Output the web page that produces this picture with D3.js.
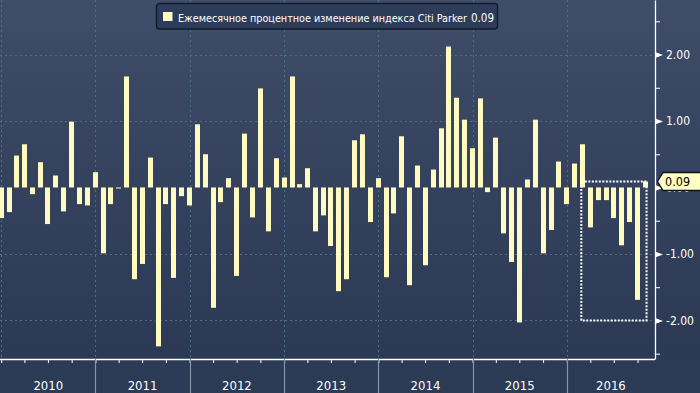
<!DOCTYPE html>
<html>
<head>
<meta charset="utf-8">
<script src="https://cdn.jsdelivr.net/npm/d3@7"></script>
<style>
  body { margin: 0; background: #2b3a55; }
  svg { display: block; font-family: "DejaVu Sans Condensed", "DejaVu Sans", sans-serif; }
</style>
</head>
<body>
<div id="chart"></div>
<script>
// Monthly change of the Citi Parker index, Dec 2009 .. Oct 2016
var startMonth = "2009-12";
var values = [
  -0.46,                                                                  // 2009-12
  -0.37, 0.48, 0.65, -0.10, 0.38, -0.55, 0.18, -0.36, 0.99, -0.25, -0.27, 0.23,   // 2010
  -0.99, -0.25, -0.01, 1.67, -1.38, -1.15, 0.45, -2.39, -0.25, -1.36, -0.13, -0.27, // 2011
  0.95, 0.50, -1.81, -0.22, 0.14, -1.33, 0.81, -0.45, 1.49, -0.66, 0.44, 0.15,      // 2012
  1.67, 0.05, 0.29, -0.66, -0.42, -0.88, -1.56, -1.38, 0.71, 0.80, -0.52, 0.14,     // 2013
  -1.35, -0.39, 0.77, -1.47, 0.33, -1.17, 0.27, 0.89, 2.12, 1.35, 1.02, 0.59,       // 2014
  1.34, -0.07, 0.75, -0.69, -1.12, -2.03, 0.12, 1.02, -0.99, -0.64, 0.39, -0.25,    // 2015
  0.36, 0.65, -0.60, -0.19, -0.19, -0.46, -0.87, -0.52, -1.69, 0.09                 // 2016
];
var yearLabels = ["2010", "2011", "2012", "2013", "2014", "2015", "2016"];
var yTicks = [-2, -1, 0, 1, 2];
var yMinorTicks = [-2.5, -1.5, -0.5, 0.5, 1.5, 2.5];
var seriesName = "Ежемесячное процентное изменение индекса Citi Parker";
var lastValue = 0.09;
// highlighted block: Feb 2016 .. Oct 2016, down to -2
var boxMonths = ["2016-02", "2016-10"];
var boxRange = [0.09, -2.0];

var svgWidth = 700;
var svgHeight = 393;
var plotRight = 655;
var plotBottom = 359;

var parseMonth = d3.timeParse("%Y-%m");
var first = parseMonth(startMonth);
var data = values.map(function(v, i) {
  // bars sit on the month end (= first day of next month)
  return { date: d3.timeMonth.offset(first, i + 1), value: v };
});

var svg = d3.select("#chart")
  .append("svg")
  .attr("width", svgWidth)
  .attr("height", svgHeight);

var defs = svg.append("defs");
var grad = defs.append("linearGradient")
  .attr("id", "bg")
  .attr("x1", 0).attr("y1", 0).attr("x2", 0).attr("y2", 1);
grad.append("stop").attr("offset", "0%").attr("stop-color", "#3f4d69");
grad.append("stop").attr("offset", "45%").attr("stop-color", "#35435f");
grad.append("stop").attr("offset", "100%").attr("stop-color", "#2b3955");

defs.append("clipPath").attr("id", "plotClip")
  .append("rect").attr("x", 0).attr("y", 0).attr("width", plotRight).attr("height", plotBottom);

svg.append("rect")
  .attr("width", svgWidth).attr("height", svgHeight)
  .attr("fill", "#2b3a55");
svg.append("rect")
  .attr("width", svgWidth).attr("height", plotBottom)
  .attr("fill", "url(#bg)");

// scales
var x = d3.scaleTime()
  .domain([new Date(2010, 0, 1), new Date(2017, 0, 1)])
  .range([1.2, 1.2 + 7 * 94.3]);

var y = d3.scaleLinear()
  .domain([-2.58, 2.82])
  .range([plotBottom, 0]);

var plot = svg.append("g").attr("clip-path", "url(#plotClip)");

// grid
var years = d3.timeYear.range(new Date(2010, 0, 1), new Date(2017, 0, 1));
plot.selectAll(".vgrid")
  .data(years)
  .enter()
  .append("line")
  .attr("x1", d => Math.round(x(d)) + 0.5)
  .attr("x2", d => Math.round(x(d)) + 0.5)
  .attr("y1", 0)
  .attr("y2", plotBottom)
  .attr("stroke", "#4d6b8a")
  .attr("stroke-dasharray", "2,3");

plot.selectAll(".hgrid")
  .data(yTicks.filter(d => d !== 0))
  .enter()
  .append("line")
  .attr("x1", 0)
  .attr("x2", plotRight)
  .attr("y1", d => Math.round(y(d)) + 0.5)
  .attr("y2", d => Math.round(y(d)) + 0.5)
  .attr("stroke", "#4d6b8a")
  .attr("stroke-dasharray", "2,3");

// bars
var barW = 5;
plot.selectAll(".bar")
  .data(data)
  .enter()
  .append("rect")
  .attr("x", d => Math.round(x(d.date) - barW / 2))
  .attr("width", barW)
  .attr("y", d => Math.min(y(d.value), y(0)))
  .attr("height", d => Math.max(Math.abs(y(d.value) - y(0)), 1))
  .attr("fill", "#fffbc0");

// highlight box
var bx0 = x(d3.timeMonth.offset(parseMonth(boxMonths[0]), 1)) - 1;
var bx1 = x(d3.timeMonth.offset(parseMonth(boxMonths[1]), 1)) + 1;
svg.append("rect")
  .attr("x", bx0)
  .attr("y", y(boxRange[0]))
  .attr("width", bx1 - bx0)
  .attr("height", y(boxRange[1]) - y(boxRange[0]))
  .attr("fill", "none")
  .attr("stroke", "#ffffff")
  .attr("stroke-width", 2)
  .attr("stroke-dasharray", "2,1.5");

// right axis
var rightAxis = d3.axisRight(y)
  .tickValues(yTicks)
  .tickSize(0)
  .tickPadding(11)
  .tickFormat(d => d.toFixed(2));

var ra = svg.append("g")
  .attr("transform", `translate(${plotRight}, 0)`)
  .call(rightAxis);
ra.select(".domain").attr("stroke", "#ffffff").attr("stroke-width", 1.3);
ra.selectAll("text")
  .attr("fill", "#ffffff")
  .style("font-size", "12px")
  .style("font-family", "'DejaVu Sans Condensed', sans-serif");

ra.selectAll(".tick")
  .append("path")
  .attr("d", "M0,-3L8,0L0,3Z")
  .attr("fill", "#ffffff");

var minorAxis = d3.axisRight(y)
  .tickValues(yMinorTicks)
  .tickSize(5)
  .tickFormat("");
var ma = svg.append("g")
  .attr("transform", `translate(${plotRight}, 0)`)
  .call(minorAxis);
ma.select(".domain").remove();
ma.selectAll("line").attr("stroke", "#ffffff");

// last value tag (covers the 0.00 label, as in the original)
var ty = y(lastValue);
var tag = svg.append("g").attr("transform", `translate(${plotRight + 2}, ${ty})`);
tag.append("path")
  .attr("d", "M0.5,0L6,-9L44,-9L44,9L6,9Z")
  .attr("fill", "#ffffc4")
  .attr("stroke", "#0d1320")
  .attr("stroke-width", 1.3);
tag.append("text")
  .attr("x", 8)
  .attr("y", 4.5)
  .attr("fill", "#000000")
  .style("font-size", "12.5px")
  .text(lastValue.toFixed(2));

// bottom axis
var bottomAxis = d3.axisBottom(x)
  .ticks(d3.timeMonth.every(3))
  .tickSize(4)
  .tickFormat("");
var ba = svg.append("g")
  .attr("transform", `translate(0, ${plotBottom})`)
  .call(bottomAxis);
ba.select(".domain").remove();
ba.selectAll(".tick").filter(d => x(d) > plotRight).remove();
ba.selectAll("line").attr("stroke", "#ffffff");
ba.append("line")
  .attr("x1", 0).attr("x2", plotRight)
  .attr("y1", 0.5).attr("y2", 0.5)
  .attr("stroke", "#ffffff")
  .attr("stroke-width", 1.3);

// year separators
svg.selectAll(".ysep")
  .data(years.slice(1))
  .enter()
  .append("line")
  .attr("x1", d => Math.round(x(d)) + 0.5)
  .attr("x2", d => Math.round(x(d)) + 0.5)
  .attr("y1", plotBottom)
  .attr("y2", svgHeight)
  .attr("stroke", "#8793a8")
  .attr("stroke-width", 1.2);

// year labels
svg.selectAll(".ylab")
  .data(yearLabels)
  .enter()
  .append("text")
  .attr("x", function(d, i) {
    var a = x(years[i]);
    var b = Math.min(x(d3.timeYear.offset(years[i], 1)), plotRight);
    return (a + b) / 2;
  })
  .attr("y", 390)
  .attr("text-anchor", "middle")
  .attr("fill", "#ffffff")
  .style("font-size", "13px")
  .text(d => d);

// legend
var legend = svg.append("g");
legend.append("rect")
  .attr("x", 156.5).attr("y", 3.5)
  .attr("width", 341).attr("height", 25.5)
  .attr("rx", 3)
  .attr("fill", "#2d3c59")
  .attr("stroke", "#121c2e")
  .attr("stroke-width", 1.5);
legend.append("rect")
  .attr("x", 163).attr("y", 12)
  .attr("width", 9.5).attr("height", 9)
  .attr("fill", "#fffbc0");
legend.append("text")
  .attr("x", 178)
  .attr("y", 21.5)
  .attr("fill", "#ffffff")
  .attr("textLength", 289)
  .attr("lengthAdjust", "spacingAndGlyphs")
  .style("font-size", "10.8px")
  .text(seriesName);
legend.append("text")
  .attr("x", 494)
  .attr("y", 21.5)
  .attr("text-anchor", "end")
  .attr("fill", "#ffffff")
  .style("font-size", "11.5px")
  .text(lastValue.toFixed(2));
</script>
</body>
</html>
